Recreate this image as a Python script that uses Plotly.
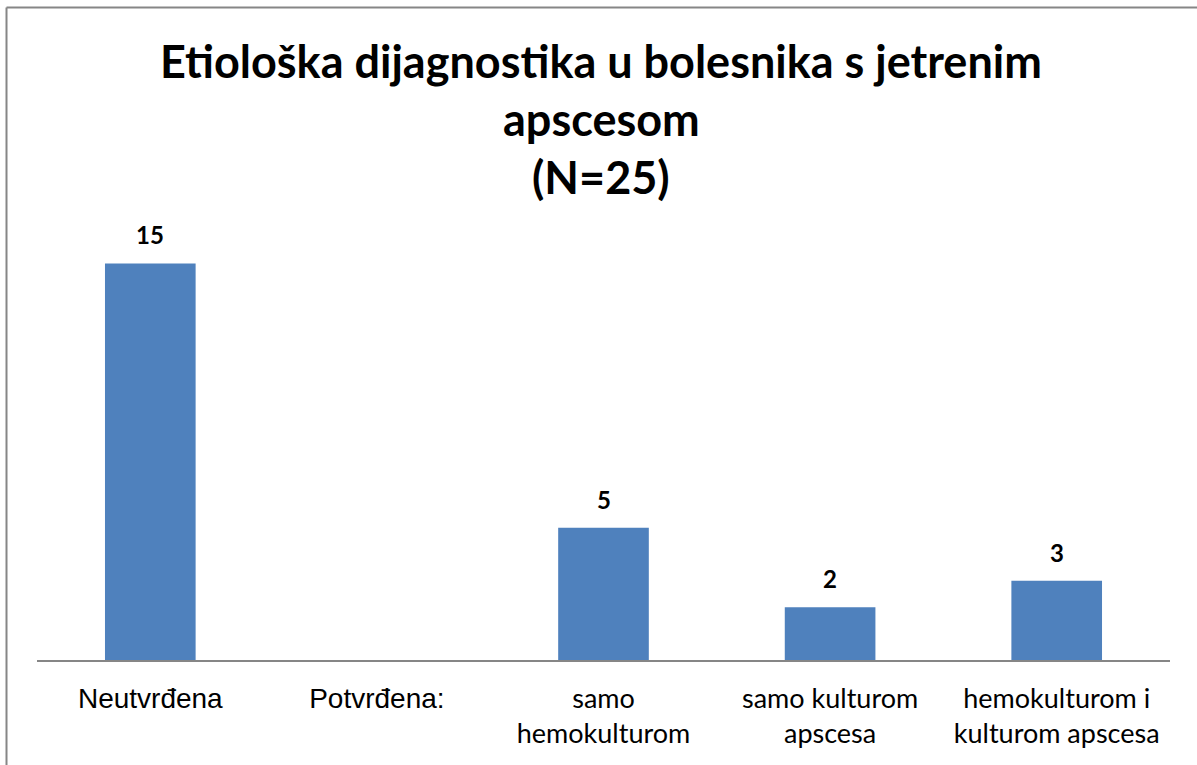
import plotly.graph_objects as go

categories = ["Neutvrđena", "Potvrđena:", "samo\nhemokulturom", "samo kulturom\napscesa", "hemokulturom i\nkulturom apscesa"]
values = [15, None, 5, 2, 3]
title_lines = ["Etiološka dijagnostika u bolesnika s jetrenim", "apscesom", "(N=25)"]

BAR = "#4F81BD"
W, H = 1197, 765
ml, mr, mt, mb = 37, 27, 237, 105
pw, ph = W - ml - mr, H - mt - mb

def ticklabel(c, i):
    t = c.replace("\n", "<br>")
    if i < 2:
        return f'<span style="font-family:Arial;font-size:28px">{t}</span>'
    return t

fig = go.Figure()
fig.add_trace(go.Bar(x=categories, y=values, marker=dict(color=BAR, line=dict(width=0)),
                     hoverinfo="x+y"))

annotations = []
for c, v in zip(categories, values):
    if v is None:
        continue
    annotations.append(dict(x=c, y=v, xref="x", yref="y", text=f"<b>{v}</b>", showarrow=False,
                            yanchor="bottom", yshift=12,
                            font=dict(family="Lato", size=24, color="black")))

def px2x(px):
    return (px - ml) / pw

def py2y(py):
    return (H - mb - py) / ph

title_y = [61, 119, 177]
for line, py in zip(title_lines, title_y):
    annotations.append(dict(x=px2x(601), y=py2y(py), xref="paper", yref="paper",
                            text=f"<b>{line}</b>", showarrow=False, xanchor="center", yanchor="middle",
                            font=dict(family="Lato", size=45, color="black")))

shapes = [
    dict(type="line", xref="paper", yref="paper", x0=px2x(6.5), x1=px2x(W + 5), y0=py2y(7.5), y1=py2y(7.5),
         line=dict(color="#868686", width=2)),
    dict(type="line", xref="paper", yref="paper", x0=px2x(6.5), x1=px2x(6.5), y0=py2y(7.5), y1=py2y(H + 5),
         line=dict(color="#868686", width=2)),
]

fig.update_layout(
    width=W, height=H,
    margin=dict(l=ml, r=mr, t=mt, b=mb, autoexpand=False),
    paper_bgcolor="white", plot_bgcolor="white",
    bargap=0.6,
    showlegend=False,
    annotations=annotations,
    shapes=shapes,
    xaxis=dict(
        tickmode="array", tickvals=categories,
        ticktext=[ticklabel(c, i) for i, c in enumerate(categories)],
        tickfont=dict(family="Lato", size=27, color="black"),
        showline=True, linecolor="#868686", linewidth=1.5,
        ticks="", ticklabelstandoff=14, showgrid=False, zeroline=False,
    ),
    yaxis=dict(range=[0, 16], visible=False, showgrid=False, zeroline=False),
)

fig.write_html("out.html", config={"displayModeBar": False},
               post_script="document.body.style.margin='0';document.body.style.overflow='hidden';")
